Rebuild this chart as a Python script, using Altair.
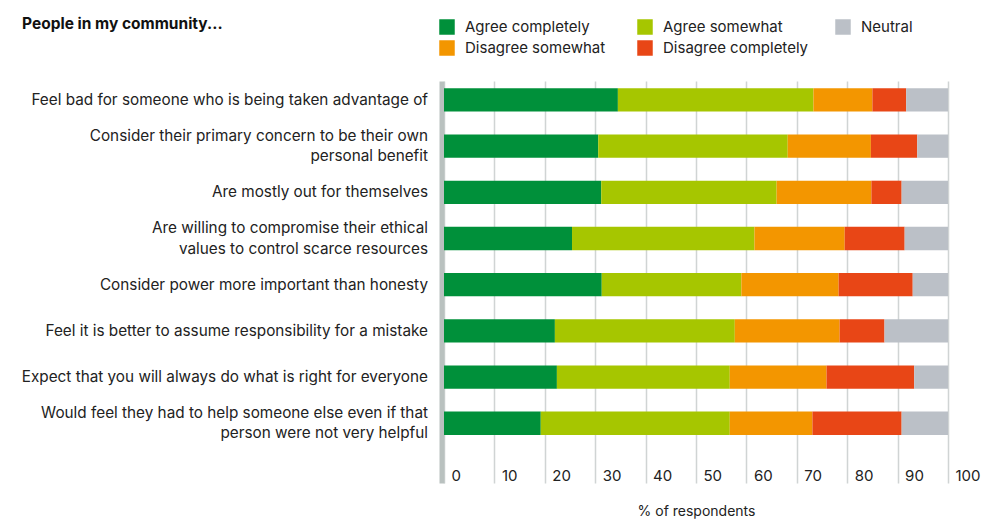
import altair as alt
import pandas as pd

statements = [
    "Feel bad for someone who is being taken advantage of",
    "Consider their primary concern to be their own|personal benefit",
    "Are mostly out for themselves",
    "Are willing to compromise their ethical|values to control scarce resources",
    "Consider power more important than honesty",
    "Feel it is better to assume responsibility for a mistake",
    "Expect that you will always do what is right for everyone",
    "Would feel they had to help someone else even if that|person were not very helpful",
]
agree_completely = [34.5, 30.6, 31.2, 25.4, 31.3, 22.0, 22.4, 19.2]
agree_somewhat = [38.8, 37.6, 34.8, 36.2, 27.7, 35.7, 34.3, 37.5]
disagree_somewhat = [11.7, 16.5, 18.8, 17.9, 19.3, 20.8, 19.2, 16.4]
disagree_completely = [6.7, 9.2, 6.0, 11.9, 14.7, 8.9, 17.4, 17.7]
neutral = [8.3, 6.1, 9.2, 8.6, 7.0, 12.6, 6.7, 9.2]

categories = ["Agree completely", "Agree somewhat", "Disagree somewhat",
              "Disagree completely", "Neutral"]
legend_order = ["Agree completely", "Agree somewhat", "Neutral",
                "Disagree somewhat", "Disagree completely"]
colors = {"Agree completely": "#00903a", "Agree somewhat": "#a6c600",
          "Neutral": "#bbc0c7", "Disagree somewhat": "#f39600",
          "Disagree completely": "#e84616"}
x_ticks = [0, 10, 20, 30, 40, 50, 60, 70, 80, 90, 100]

series = [agree_completely, agree_somewhat, disagree_somewhat,
          disagree_completely, neutral]
rows = []
for k, (cat, vals) in enumerate(zip(categories, series)):
    for s, v in zip(statements, vals):
        rows.append({"statement": s, "category": cat, "value": v, "k": k})
df = pd.DataFrame(rows)

FONT = "Inter"
TXT = "#222222"

chart = alt.Chart(df).mark_bar().encode(
    y=alt.Y("statement:N", sort=statements,
            scale=alt.Scale(paddingInner=0.4956, paddingOuter=0.5997, align=0.132),
            axis=alt.Axis(title=None, ticks=False, domainColor="#b9c1bf",
                          domainWidth=5, offset=2.5, labelPadding=14,
                          labelFontSize=15.3, labelColor=TXT, labelFont=FONT,
                          labelLimit=500, labelLineHeight=20.5,
                          labelOffset={"condition": {"test": "indexof(datum.value, '|') >= 0",
                                                     "value": -10.5},
                                       "value": 0},
                          labelExpr="split(datum.label, '|')")),
    x=alt.X("value:Q", stack="zero",
            scale=alt.Scale(domain=[0, 100], nice=False),
            axis=alt.Axis(values=x_ticks, title="% of respondents", domain=False,
                          ticks=False, grid=True, gridColor="#d0d4d4", gridWidth=1.5,
                          labelAlign="left", labelBaseline="middle", labelPadding=-8,
                          labelOffset=7, labelFontSize=15, labelColor=TXT,
                          labelFont=FONT, labelFlush=False,
                          titleFont=FONT, titleFontSize=14, titleFontWeight="normal",
                          titleColor=TXT, titleY=21, titleBaseline="top")),
    color=alt.Color("category:N",
                    scale=alt.Scale(domain=legend_order,
                                    range=[colors[c] for c in legend_order]),
                    legend=alt.Legend(title=None, orient="none", legendX=-5,
                                      legendY=-62, columns=3, direction="horizontal",
                                      symbolType="square",
                                      symbolSize=240, symbolStrokeWidth=0,
                                      labelFontSize=15, labelFont=FONT,
                                      labelColor=TXT, labelOffset=10,
                                      columnPadding=26, rowPadding=5,
                                      gridAlign="all", labelLimit=300)),
    order=alt.Order("k:Q"),
).properties(
    width=504, height=402,
    title=alt.TitleParams("People in my community...", anchor="start", frame="group",
                          dx=-422, dy=17, fontSize=15.5, font=FONT, fontWeight="bold",
                          color="#111111"),
    autosize=alt.AutoSizeParams(type="none"),
    padding={"left": 444, "top": 81, "right": 34, "bottom": 36},
).configure_view(stroke=None)

chart.save("out.html", embed_options={"renderer": "svg", "actions": False})
